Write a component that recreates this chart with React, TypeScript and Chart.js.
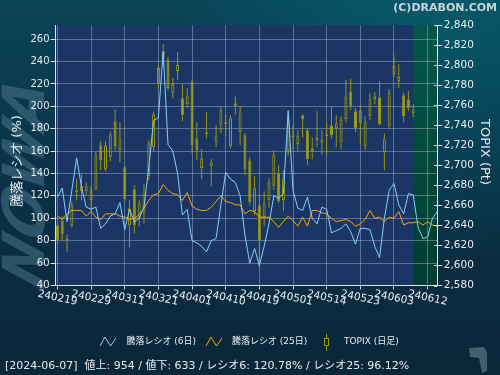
import React, { useEffect, useRef } from "react";
import { Chart, registerables } from "chart.js";
Chart.register(...registerables);

// Trading days (YYMMDD); last 5 are future days shown in the shaded area
const dates = [
  "240219","240220","240221","240222","240226","240227","240228","240229",
  "240301","240304","240305","240306","240307","240308","240311","240312","240313","240314","240315","240318","240319","240321","240322","240325","240326","240327","240328","240329",
  "240401","240402","240403","240404","240405","240408","240409","240410","240411","240412","240415","240416","240417","240418","240419","240422","240423","240424","240425","240426","240430",
  "240501","240502","240507","240508","240509","240510","240513","240514","240515","240516","240517","240520","240521","240522","240523","240524","240527","240528","240529","240530","240531",
  "240603","240604","240605","240606","240607","240610","240611","240612","240613","240614",
];
const xTickIndex = [0, 7, 14, 21, 28, 35, 42, 49, 56, 63, 70, 77];
const lastDataIndex = 74;

// 騰落レシオ (6日)
const ratio6 = [
  119,127,97,125,154,128,110,108,110,91,95,102,104,114,90,108,97,100,110,145,
  187,190,249,166,160,140,103,108,80,78,75,70,80,82,112,141,135,132,120,85,
  60,73,58,75,95,120,118,122,196,125,109,107,119,100,95,110,108,87,89,91,
  95,88,77,91,91,90,75,65,100,125,131,112,104,122,121,92,82,83,100,106,
];
// 騰落レシオ (25日)
const ratio25 = [
  102,99,104,107,107,107,102,106,101,99,104,104,104,102,101,99,100,103,109,116,
  121,122,130,125,122,121,116,123,111,108,107,107,110,115,120,115,114,112,112,104,
  107,106,101,101,101,97,92,97,102,98,93,101,93,107,107,105,104,100,97,98,
  99,97,93,95,99,107,100,101,97,101,100,106,94,96,96,97,94,97,94,93,
];
// TOPIX daily candles
const topixOpen = [
  2640,2645,2625,2640,2673,2674,2674,2665,2676,2720,2696,2708,2744,2715,2698,2640,2676,2647,2652,2689,
  2718,2781,2813,2805,2772,2794,2767,2761,2783,2727,2697,2733,2699,2723,2740,2743,2719,2762,2733,2730,
  2705,2654,2660,2648,2665,2679,2692,2665,2714,2728,2721,2750,2735,2717,2725,2725,2729,2740,2737,2723,
  2746,2774,2754,2742,2719,2749,2766,2768,2713,2739,2791,2784,2770,2766,2752,
];
const topixHigh = [
  2642,2649,2631,2664,2686,2691,2683,2679,2714,2724,2724,2734,2756,2743,2699,2665,2680,2665,2681,2725,
  2754,2800,2821,2808,2787,2813,2781,2777,2785,2743,2716,2753,2706,2740,2759,2750,2750,2769,2759,2732,
  2708,2689,2672,2674,2687,2715,2700,2695,2755,2740,2735,2751,2737,2728,2754,2735,2743,2759,2750,2749,
  2785,2786,2757,2759,2749,2772,2773,2784,2732,2776,2810,2801,2773,2774,2761,
];
const topixLow = [
  2622,2625,2614,2638,2665,2665,2670,2654,2675,2695,2694,2704,2715,2703,2665,2618,2632,2639,2642,2685,
  2714,2777,2799,2775,2767,2785,2744,2757,2712,2705,2686,2727,2679,2718,2732,2729,2717,2750,2720,2690,
  2660,2650,2597,2640,2657,2675,2662,2654,2710,2715,2714,2728,2700,2706,2718,2711,2711,2727,2718,2716,
  2743,2755,2733,2722,2715,2745,2761,2740,2695,2737,2788,2777,2743,2754,2748,
];
const topixClose = [
  2625,2631,2627,2660,2675,2679,2679,2676,2710,2705,2720,2731,2719,2727,2666,2657,2640,2662,2671,2722,
  2751,2797,2808,2777,2781,2800,2750,2769,2720,2715,2707,2731,2703,2729,2755,2741,2747,2759,2754,2696,
  2663,2677,2625,2662,2683,2711,2664,2687,2744,2730,2729,2746,2706,2713,2728,2723,2731,2730,2742,2746,
  2768,2759,2737,2755,2743,2766,2769,2741,2726,2773,2799,2788,2749,2757,2755,
];

const legendLabels = ["騰落レシオ (6日)", "騰落レシオ (25日)", "TOPIX (日足)"];
const summaryText = "[2024-06-07]  値上: 954 / 値下: 633 / レシオ6: 120.78% / レシオ25: 96.12%";
const copyrightText = "(C)DRABON.COM";
const leftTitle = "騰落レシオ (%)";
const rightTitle = "TOPIX (Pt)";
const watermarkText = "NOWA";

const FONT = "'DejaVu Sans', 'Noto Sans CJK JP', sans-serif";
const TEXT = "#e6edf1";
const GRID = "rgba(185,198,222,0.42)";
const BLUE = "#87cefa";
const ORANGE = "#ffa500";
const OLIVE_FILL = "#a6a614";
const OLIVE_LINE = "#98980e";

const decoPlugin = {
  id: "deco",
  beforeDraw(chart: any) {
    const { ctx, chartArea: a, scales } = chart;
    const W = chart.width, H = chart.height;
    ctx.save();
    const g = ctx.createLinearGradient(0, 0, 0, H);
    g.addColorStop(0, "#0a4457");
    g.addColorStop(0.45, "#0a3248");
    g.addColorStop(1, "#0a2639");
    ctx.fillStyle = g;
    ctx.fillRect(0, 0, W, H);
    const r = ctx.createRadialGradient(440, -10, 0, 440, -10, 270);
    r.addColorStop(0, "rgba(0,112,128,0.5)");
    r.addColorStop(1, "rgba(0,112,128,0)");
    ctx.fillStyle = r;
    ctx.fillRect(0, 0, W, H);

    // faint watermark at the left
    ctx.save();
    ctx.translate(44, 292);
    ctx.rotate(-Math.PI / 2);
    ctx.transform(1, 0, -0.35, 1, 0, 0);
    ctx.font = `italic bold 58px ${FONT}`;
    ctx.fillStyle = "rgba(80,122,142,0.5)";
    ctx.textAlign = "left";
    ctx.textBaseline = "alphabetic";
    ctx.fillText(watermarkText, 0, 0);
    ctx.restore();

    // faint icon bottom right
    ctx.save();
    ctx.fillStyle = "rgba(110,140,155,0.55)";
    ctx.beginPath();
    ctx.moveTo(469, 348); ctx.lineTo(484, 347); ctx.lineTo(487, 352); ctx.lineTo(487, 371);
    ctx.lineTo(482, 373); ctx.lineTo(479, 358); ctx.lineTo(470, 357);
    ctx.closePath();
    ctx.fill();
    ctx.restore();

    ctx.fillStyle = "#1b3565";
    ctx.fillRect(a.left, a.top, a.right - a.left, a.bottom - a.top);
    const gx = scales.x.getPixelForValue(lastDataIndex);
    const gg = ctx.createLinearGradient(0, a.top, 0, a.bottom);
    gg.addColorStop(0, "#03574a");
    gg.addColorStop(1, "#013c31");
    ctx.fillStyle = gg;
    ctx.fillRect(gx, a.top, a.right - gx, a.bottom - a.top);
    ctx.restore();
  },
  afterDraw(chart: any) {
    const { ctx, chartArea: a, scales } = chart;
    ctx.save();
    // inner half of right-axis tick marks
    ctx.strokeStyle = "#d8e0e6";
    ctx.lineWidth = 1;
    scales.yR.ticks.forEach((t: any) => {
      const y = Math.round(scales.yR.getPixelForValue(t.value)) + 0.5;
      ctx.beginPath();
      ctx.moveTo(a.right - 3, y);
      ctx.lineTo(a.right, y);
      ctx.stroke();
    });

    // x labels, rotated clockwise
    ctx.fillStyle = TEXT;
    ctx.font = `10.5px ${FONT}`;
    ctx.textAlign = "center";
    ctx.textBaseline = "middle";
    xTickIndex.forEach((i) => {
      const x = scales.x.getPixelForValue(i);
      ctx.save();
      ctx.translate(x, a.bottom + 12.5);
      ctx.rotate((12 * Math.PI) / 180);
      ctx.fillText(dates[i], 0, 0);
      ctx.restore();
    });

    // axis titles
    ctx.font = `13px ${FONT}`;
    ctx.save();
    ctx.translate(18, 161);
    ctx.rotate(-Math.PI / 2);
    ctx.fillText(leftTitle, 0, 0);
    ctx.restore();
    ctx.save();
    ctx.translate(484, 152);
    ctx.rotate(Math.PI / 2);
    ctx.fillText(rightTitle, 0, 0);
    ctx.restore();

    // copyright
    ctx.font = `bold 11px ${FONT}`;
    ctx.fillStyle = "#c9d5db";
    ctx.textAlign = "right";
    ctx.fillText(copyrightText, 497, 8);

    // legend
    const ly = 342;
    ctx.lineWidth = 1;
    ctx.strokeStyle = BLUE;
    ctx.beginPath();
    ctx.moveTo(100, 346); ctx.lineTo(105, 337); ctx.lineTo(110.5, 346); ctx.lineTo(116, 338);
    ctx.stroke();
    ctx.strokeStyle = ORANGE;
    ctx.beginPath();
    ctx.moveTo(206, 346); ctx.lineTo(211, 337); ctx.lineTo(216.5, 346); ctx.lineTo(222, 338);
    ctx.stroke();
    ctx.strokeStyle = OLIVE_LINE;
    ctx.beginPath();
    ctx.moveTo(326.5, 334); ctx.lineTo(326.5, 338);
    ctx.moveTo(326.5, 346); ctx.lineTo(326.5, 351);
    ctx.stroke();
    ctx.strokeRect(324.5, 338.5, 4, 7);
    ctx.fillStyle = TEXT;
    ctx.font = `9px ${FONT}`;
    ctx.textAlign = "left";
    ctx.fillText(legendLabels[0], 126.5, ly);
    ctx.fillText(legendLabels[1], 232, ly);
    ctx.fillText(legendLabels[2], 344, ly);

    // summary line
    ctx.font = `11px ${FONT}`;
    ctx.fillText(summaryText, 5, 366);
    ctx.restore();
  },
};

export default function App() {
  const ref = useRef<HTMLCanvasElement>(null);
  useEffect(() => {
    const n = topixOpen.length;
    const idx = Array.from({ length: n }, (_, i) => i);
    const bodies = idx.map((i) => ({ x: i, y: [topixOpen[i], topixClose[i]] }));
    const upper = idx.map((i) => ({ x: i, y: [Math.max(topixOpen[i], topixClose[i]), topixHigh[i]] }));
    const lower = idx.map((i) => ({ x: i, y: [topixLow[i], Math.min(topixOpen[i], topixClose[i])] }));
    const bodyFill = idx.map((i) => (topixClose[i] < topixOpen[i] ? OLIVE_FILL : "rgba(0,0,0,0)"));

    const chart = new Chart(ref.current as HTMLCanvasElement, {
      type: "bar",
      data: {
        datasets: [
          {
            type: "line",
            label: legendLabels[0],
            data: ratio6.map((v, i) => ({ x: i, y: v })),
            borderColor: BLUE,
            borderWidth: 1,
            pointRadius: 0,
            tension: 0,
            yAxisID: "yL",
            order: 0,
          } as any,
          {
            type: "line",
            label: legendLabels[1],
            data: ratio25.map((v, i) => ({ x: i, y: v })),
            borderColor: ORANGE,
            borderWidth: 1,
            pointRadius: 0,
            tension: 0,
            yAxisID: "yL",
            order: 1,
          } as any,
          {
            label: "wickHi",
            data: upper,
            backgroundColor: OLIVE_LINE,
            borderWidth: 0,
            barThickness: 1,
            grouped: false,
            inflateAmount: 0,
            yAxisID: "yR",
            order: 3,
          } as any,
          {
            label: "wickLo",
            data: lower,
            backgroundColor: OLIVE_LINE,
            borderWidth: 0,
            barThickness: 1,
            grouped: false,
            inflateAmount: 0,
            yAxisID: "yR",
            order: 3,
          } as any,
          {
            label: legendLabels[2],
            data: bodies,
            backgroundColor: bodyFill,
            borderColor: OLIVE_LINE,
            borderWidth: 1,
            borderSkipped: false,
            barThickness: 3,
            grouped: false,
            inflateAmount: 0,
            yAxisID: "yR",
            order: 2,
          } as any,
        ],
      },
      options: {
        responsive: false,
        animation: false,
        devicePixelRatio: 1,
        layout: { padding: { top: 25, left: 0, right: 0, bottom: 0 } },
        plugins: { legend: { display: false }, tooltip: { enabled: false } },
        scales: {
          x: {
            type: "linear",
            min: -0.4,
            max: 79,
            offset: false,
            afterBuildTicks: (s: any) => {
              s.ticks = xTickIndex.map((v) => ({ value: v }));
            },
            afterFit: (s: any) => {
              s.height = 89.5;
            },
            ticks: { display: false },
            grid: { color: GRID, offset: false, drawTicks: true, tickLength: 4, tickColor: "#c8d0d8" },
            border: { display: true, color: "#dfe6ea", width: 1 },
          },
          yL: {
            type: "linear",
            position: "left",
            min: 40,
            max: 272.6,
            afterBuildTicks: (s: any) => {
              const t = [];
              for (let v = 40; v <= 260; v += 20) t.push({ value: v });
              s.ticks = t;
            },
            afterFit: (s: any) => {
              s.width = 55.5;
            },
            ticks: { color: TEXT, font: { family: FONT, size: 10 }, padding: 1 },
            grid: { color: GRID, tickColor: "#d8e0e6", tickLength: 5 },
            border: { display: true, color: "#dfe6ea", width: 1 },
          },
          yR: {
            type: "linear",
            position: "right",
            min: 2580,
            max: 2840,
            afterBuildTicks: (s: any) => {
              const t = [];
              for (let v = 2580; v <= 2840; v += 20) t.push({ value: v });
              s.ticks = t;
            },
            afterFit: (s: any) => {
              s.width = 62.75;
            },
            ticks: {
              color: TEXT,
              font: { family: FONT, size: 10.5 },
              padding: 1.5,
              callback: (v: any) => Number(v).toLocaleString("en-US"),
            },
            grid: { drawOnChartArea: false, tickColor: "#d8e0e6", tickLength: 5 },
            border: { display: true, color: "#dfe6ea", width: 1 },
          },
        },
      } as any,
      plugins: [decoPlugin],
    });
    return () => chart.destroy();
  }, []);
  return (
    <div style={{ position: "fixed", left: 0, top: 0, width: 500, height: 375 }}>
      <canvas ref={ref} width={500} height={375} style={{ display: "block", width: 500, height: 375 }} />
    </div>
  );
}
